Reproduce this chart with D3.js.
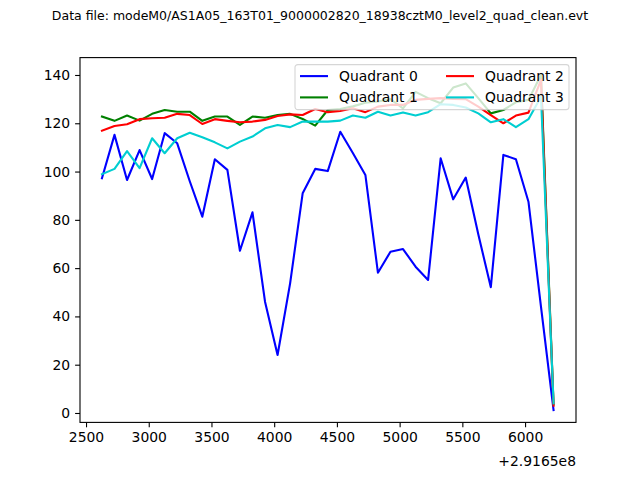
<!DOCTYPE html>
<html lang="en">
<head>
    <meta charset="UTF-8">
    <title>Quadrant light curves</title>
    <style>
        body {
            margin: 0;
            padding: 0;
            background: #ffffff;
        }
        svg text {
            font-family: "DejaVu Sans", sans-serif;
        }
    </style>
</head>
<body>
    <svg id="chart"></svg>
    <script src="https://d3js.org/d3.v7.min.js"></script>
    <script>
        // time since offset (s), offset shown as +2.9165e8
        const times = [2627, 2727, 2827, 2927, 3027, 3127, 3227, 3327, 3427, 3527,
                       3627, 3727, 3827, 3927, 4027, 4127, 4227, 4327, 4427, 4527,
                       4627, 4727, 4827, 4927, 5027, 5127, 5227, 5327, 5427, 5527,
                       5627, 5727, 5827, 5927, 6027, 6127, 6227];

        const quad0 = [97.2, 115.2, 96.5, 108.9, 96.9, 115.9, 111.7, 96, 81.3, 105.1,
                       100.7, 67.2, 83.1, 46.1, 24.0, 53.7, 91.0, 101.1, 100.2, 116.5,
                       107.7, 98.6, 58.1, 66.8, 67.9, 60.6, 55.1, 105.5, 88.5, 97.5,
                       74, 52.1, 106.9, 105.1, 87.5, 44, 1.2];
        const quad1 = [122.8, 121, 123.2, 121.1, 123.9, 125.5, 124.8, 124.8, 121, 122.8,
                       122.8, 119.3, 122.8, 122.3, 123.4, 123.9, 121.8, 119.0, 125.5, 125.9,
                       127, 128.5, 129, 130, 126.2, 133, 130.4, 128.3, 134.8, 136.5,
                       130.4, 124.1, 125.5, 128.7, 129.7, 140, 3.5];
        const quad2 = [116.9, 118.9, 119.6, 121.7, 122.1, 122.3, 123.9, 123.4, 119.7, 121.7,
                       121, 120.4, 120.7, 121.4, 123, 123.7, 123.4, 125.9, 124.6, 125.1,
                       126.2, 124.6, 126.9, 127.6, 127.6, 129.7, 130.1, 130.4, 130.1, 130,
                       126.9, 123.4, 120.0, 123.2, 124.4, 138, 3];
        const quad3 = [98.9, 101.1, 108.5, 101.4, 113.8, 107.6, 113.8, 116.1, 114.2, 112.1,
                       109.6, 112.4, 114.5, 117.9, 119.3, 118.4, 120.7, 120.7, 120.7, 121.1,
                       123.2, 122.3, 124.8, 123.2, 124.5, 123.2, 124.6, 127.9, 127.6, 126.5,
                       124.1, 120.4, 121.7, 118.4, 121.7, 131, 4];

        const seriesNames = ["Quadrant 0", "Quadrant 1", "Quadrant 2", "Quadrant 3"];
        const seriesColors = ["#0000ff", "#008000", "#ff0000", "#00ced1"];
        const xTicks = [2500, 3000, 3500, 4000, 4500, 5000, 5500, 6000];
        const yTicks = [0, 20, 40, 60, 80, 100, 120, 140];
        const offsetLabel = "+2.9165e8";
        const title = "Data file: modeM0/AS1A05_163T01_9000002820_18938cztM0_level2_quad_clean.evt";

        const width = 640;
        const height = 480;
        const margin = {left: 80, right: 64, top: 57.6, bottom: 57.6};
        const plotW = width - margin.left - margin.right;
        const plotH = height - margin.top - margin.bottom;

        const svg = d3.select("#chart")
            .attr("width", width)
            .attr("height", height);

        svg.append("rect")
            .attr("width", width)
            .attr("height", height)
            .attr("fill", "#ffffff");

        svg.append("text")
            .attr("x", width / 2)
            .attr("y", 20)
            .attr("text-anchor", "middle")
            .style("font-size", "12.5px")
            .text(title);

        const x = d3.scaleLinear().domain([2452, 6406]).range([0, plotW]);
        const y = d3.scaleLinear().domain([-3.9, 147.2]).range([plotH, 0]);

        const g = svg.append("g")
            .attr("transform", "translate(" + margin.left + "," + margin.top + ")");

        const xAxis = g.append("g")
            .attr("transform", "translate(0," + plotH + ")")
            .call(d3.axisBottom(x).tickValues(xTicks).tickFormat(d3.format("d"))
                .tickSize(4.9).tickPadding(4.9));
        const yAxis = g.append("g")
            .call(d3.axisLeft(y).tickValues(yTicks).tickFormat(d3.format("d"))
                .tickSize(4.9).tickPadding(4.9));

        [xAxis, yAxis].forEach(function (ax) {
            ax.select(".domain").remove();
            ax.selectAll(".tick line").attr("stroke", "#000").attr("stroke-width", 1.1);
            ax.selectAll(".tick text")
                .attr("fill", "#000")
                .style("font-size", "13.9px")
                .style("font-family", "DejaVu Sans, sans-serif");
        });

        const line = d3.line()
            .x((d) => x(d[0]))
            .y((d) => y(d[1]));

        const allSeries = [quad0, quad1, quad2, quad3];
        allSeries.forEach(function (vals, i) {
            g.append("path")
                .datum(times.map((t, j) => [t, vals[j]]))
                .attr("fill", "none")
                .attr("stroke", seriesColors[i])
                .attr("stroke-width", 2.1)
                .attr("stroke-linejoin", "round")
                .attr("stroke-linecap", "square")
                .attr("d", line);
        });

        // frame
        g.append("rect")
            .attr("width", plotW)
            .attr("height", plotH)
            .attr("fill", "none")
            .attr("stroke", "#000")
            .attr("stroke-width", 1.1);

        svg.append("text")
            .attr("x", margin.left + plotW)
            .attr("y", 466)
            .attr("text-anchor", "end")
            .style("font-size", "13.9px")
            .text(offsetLabel);

        // legend, two columns, upper right
        const legend = g.append("g")
            .attr("transform", "translate(215,7)");
        legend.append("rect")
            .attr("width", 274)
            .attr("height", 45)
            .attr("rx", 2.8)
            .attr("fill", "#ffffff")
            .attr("fill-opacity", 0.8)
            .attr("stroke", "#cccccc")
            .attr("stroke-opacity", 0.8)
            .attr("stroke-width", 1.1);

        const order = [0, 2, 1, 3];
        order.forEach(function (s, k) {
            const col = k % 2;
            const row = Math.floor(k / 2);
            const item = legend.append("g")
                .attr("transform", "translate(" + (5 + col * 146) + "," + (11.5 + row * 21.3) + ")");
            item.append("line")
                .attr("x1", 0).attr("x2", 28)
                .attr("stroke", seriesColors[s])
                .attr("stroke-width", 2.1);
            item.append("text")
                .attr("x", 39)
                .attr("dy", "0.36em")
                .style("font-size", "13.9px")
                .text(seriesNames[s]);
        });
    </script>
</body>
</html>
